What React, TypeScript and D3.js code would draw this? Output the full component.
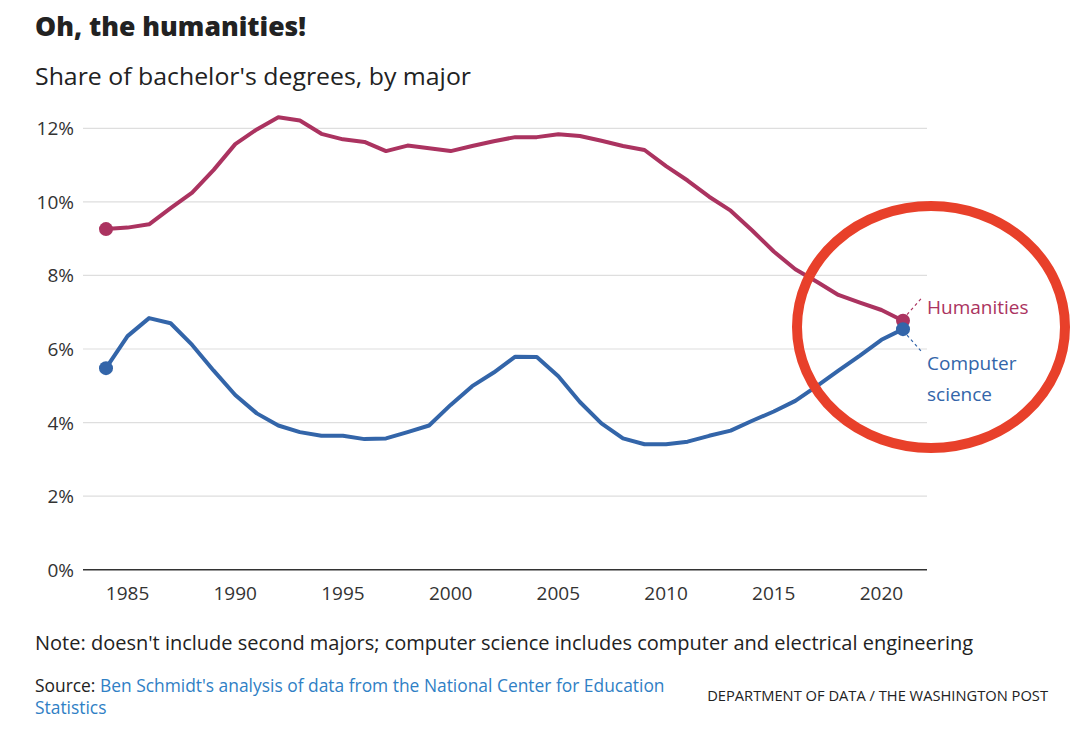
import React from "react";
import * as d3 from "d3";

const years: number[] = d3.range(1984, 2022);
const humanities: number[] = [
  9.26, 9.3, 9.39, 9.83, 10.25, 10.87, 11.57, 11.97, 12.3, 12.21,
  11.85, 11.7, 11.63, 11.38, 11.53, 11.46, 11.38, 11.52, 11.65, 11.76,
  11.76, 11.84, 11.79, 11.66, 11.52, 11.41, 10.97, 10.58, 10.14, 9.76,
  9.22, 8.65, 8.17, 7.83, 7.47, 7.26, 7.06, 6.77,
];
const computerScience: number[] = [
  5.48, 6.35, 6.84, 6.7, 6.11, 5.41, 4.75, 4.25, 3.92, 3.74,
  3.64, 3.64, 3.55, 3.57, 3.74, 3.92, 4.48, 4.99, 5.36, 5.79,
  5.78, 5.26, 4.56, 3.98, 3.57, 3.41, 3.41, 3.48, 3.64, 3.78,
  4.05, 4.3, 4.59, 4.99, 5.41, 5.82, 6.25, 6.54,
];
const yTicks: number[] = [0, 2, 4, 6, 8, 10, 12];
const xTicks: number[] = [1985, 1990, 1995, 2000, 2005, 2010, 2015, 2020];

const HUM = "#ab3360";
const CS = "#3365a9";
const FONT = "'Open Sans', 'Noto Sans', sans-serif";

export default function App() {
  const W = 1080;
  const H = 744;
  const x = d3.scaleLinear().domain([1984, 2021]).range([106, 903]);
  const y = d3.scaleLinear().domain([0, 12]).range([569.7, 128.3]);
  const gridX0 = 83;
  const gridX1 = 927;

  const line = d3
    .line<number>()
    .x((_, i) => x(years[i]))
    .y((d) => y(d));

  const lastYear = years[years.length - 1];
  const hEnd = [x(lastYear), y(humanities[humanities.length - 1])];
  const cEnd = [x(lastYear), y(computerScience[computerScience.length - 1])];

  return (
    <svg
      width={W}
      height={H}
      style={{ position: "absolute", left: 0, top: 0, background: "#fff" }}
      fontFamily={FONT}
    >
      <text x={35} y={36} fontSize={26} fontWeight={800} fill="#222" textLength={271} lengthAdjust="spacingAndGlyphs">
        Oh, the humanities!
      </text>
      <text x={35} y={85} fontSize={23} fill="#222" textLength={436} lengthAdjust="spacingAndGlyphs">
        Share of bachelor's degrees, by major
      </text>

      {yTicks.map((t) => (
        <g key={t}>
          <line
            x1={gridX0}
            x2={gridX1}
            y1={y(t)}
            y2={y(t)}
            stroke={t === 0 ? "#333" : "#dedede"}
            strokeWidth={t === 0 ? 1.5 : 1.2}
          />
          <text
            x={74}
            y={y(t) + 7}
            textAnchor="end"
            fontSize={19}
            fill="#333"
          >
            {t}%
          </text>
        </g>
      ))}

      {xTicks.map((t) => (
        <text
          key={t}
          x={x(t)}
          y={600}
          textAnchor="middle"
          fontSize={19}
          fill="#333"
        >
          {t}
        </text>
      ))}

      <path
        d={line(humanities) || ""}
        fill="none"
        stroke={HUM}
        strokeWidth={4}
        strokeLinejoin="round"
      />
      <path
        d={line(computerScience) || ""}
        fill="none"
        stroke={CS}
        strokeWidth={4}
        strokeLinejoin="round"
      />
      <circle cx={x(years[0])} cy={y(humanities[0])} r={7} fill={HUM} />
      <circle cx={x(years[0])} cy={y(computerScience[0])} r={7} fill={CS} />
      <circle cx={hEnd[0]} cy={hEnd[1]} r={7} fill={HUM} />
      <circle cx={cEnd[0]} cy={cEnd[1]} r={7} fill={CS} />

      <line
        x1={hEnd[0] + 4}
        y1={hEnd[1] - 6}
        x2={hEnd[0] + 19}
        y2={hEnd[1] - 23}
        stroke={HUM}
        strokeWidth={1.2}
        strokeDasharray="3,3"
      />
      <line
        x1={cEnd[0] + 4}
        y1={cEnd[1] + 6}
        x2={cEnd[0] + 19}
        y2={cEnd[1] + 23}
        stroke={CS}
        strokeWidth={1.2}
        strokeDasharray="3,3"
      />
      <text x={927} y={314} fontSize={19} fill={HUM}>
        Humanities
      </text>
      <text x={927} y={370} fontSize={19} fill={CS}>
        Computer
      </text>
      <text x={927} y={401} fontSize={19} fill={CS}>
        science
      </text>

      <ellipse
        cx={931}
        cy={327}
        rx={134}
        ry={121}
        fill="none"
        stroke="#e8402a"
        strokeWidth={10}
      />

      <text x={35} y={650} fontSize={20} fill="#222">
        Note: doesn't include second majors; computer science includes computer and electrical engineering
      </text>
      <text x={35} y={692} fontSize={17.4} fill="#222">
        Source: <tspan fill="#2f80c5">Ben Schmidt's analysis of data from the National Center for Education</tspan>
      </text>
      <text x={35} y={714} fontSize={17.4} fill="#2f80c5">
        Statistics
      </text>
      <text x={1048} y={701} fontSize={14.7} fill="#222" textAnchor="end">
        DEPARTMENT OF DATA / THE WASHINGTON POST
      </text>
    </svg>
  );
}
